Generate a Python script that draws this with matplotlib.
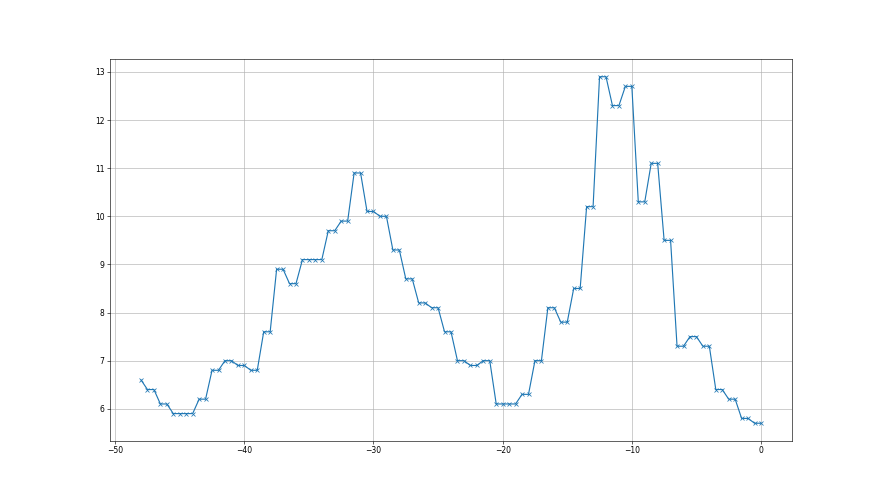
import matplotlib
matplotlib.use("Agg")
import matplotlib.pyplot as plt

x = [-48.0, -47.5, -47.0, -46.5, -46.0, -45.5, -45.0, -44.5, -44.0, -43.5,
     -43.0, -42.5, -42.0, -41.5, -41.0, -40.5, -40.0, -39.5, -39.0, -38.5,
     -38.0, -37.5, -37.0, -36.5, -36.0, -35.5, -35.0, -34.5, -34.0, -33.5,
     -33.0, -32.5, -32.0, -31.5, -31.0, -30.5, -30.0, -29.5, -29.0, -28.5,
     -28.0, -27.5, -27.0, -26.5, -26.0, -25.5, -25.0, -24.5, -24.0, -23.5,
     -23.0, -22.5, -22.0, -21.5, -21.0, -20.5, -20.0, -19.5, -19.0, -18.5,
     -18.0, -17.5, -17.0, -16.5, -16.0, -15.5, -15.0, -14.5, -14.0, -13.5,
     -13.0, -12.5, -12.0, -11.5, -11.0, -10.5, -10.0, -9.5, -9.0, -8.5,
     -8.0, -7.5, -7.0, -6.5, -6.0, -5.5, -5.0, -4.5, -4.0, -3.5,
     -3.0, -2.5, -2.0, -1.5, -1.0, -0.5, 0.0]

y = [6.6,
     6.4, 6.4, 6.1, 6.1, 5.9, 5.9, 5.9, 5.9, 6.2, 6.2,
     6.8, 6.8, 7.0, 7.0, 6.9, 6.9, 6.8, 6.8, 7.6, 7.6,
     8.9, 8.9, 8.6, 8.6, 9.1, 9.1, 9.1, 9.1, 9.7, 9.7,
     9.9, 9.9, 10.9, 10.9, 10.1, 10.1, 10.0, 10.0, 9.3, 9.3,
     8.7, 8.7, 8.2, 8.2, 8.1, 8.1, 7.6, 7.6, 7.0, 7.0,
     6.9, 6.9, 7.0, 7.0, 6.1, 6.1, 6.1, 6.1, 6.3, 6.3,
     7.0, 7.0, 8.1, 8.1, 7.8, 7.8, 8.5, 8.5, 10.2, 10.2,
     12.9, 12.9, 12.3, 12.3, 12.7, 12.7, 10.3, 10.3, 11.1, 11.1,
     9.5, 9.5, 7.3, 7.3, 7.5, 7.5, 7.3, 7.3, 6.4, 6.4,
     6.2, 6.2, 5.8, 5.8, 5.7, 5.7]

fig, ax = plt.subplots(figsize=(16, 9), dpi=55)
ax.plot(x, y, marker="x", color="C0")
ax.grid(True)
fig.savefig("out.png", dpi=55)
